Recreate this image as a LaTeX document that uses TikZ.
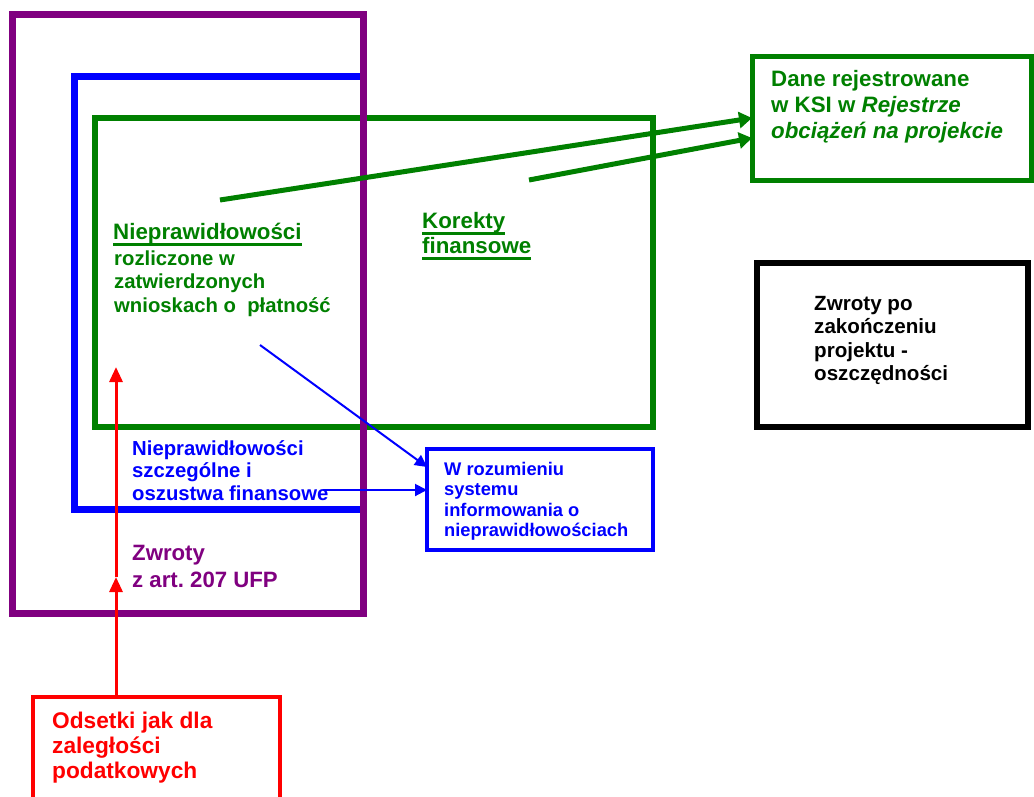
\documentclass[tikz,border=0pt]{standalone}
\usepackage{fontspec}
\setmainfont{Liberation Sans}
\usetikzlibrary{arrows.meta}
\definecolor{pgreen}{RGB}{0,128,0}
\definecolor{pblue}{RGB}{0,0,255}
\definecolor{ppurple}{RGB}{128,0,128}
\definecolor{pred}{RGB}{255,0,0}
\newsavebox\myulbox
\newcommand\myul[1]{\sbox\myulbox{#1}\rlap{\rule[-6.5pt]{\wd\myulbox}{2.5pt}}\usebox\myulbox}
\frenchspacing
\begin{document}
\begin{tikzpicture}[x=1pt,y=-1pt,
  frame/.style={draw, inner sep=0pt, outer sep=0pt},
  lbl/.style={inner sep=0pt, anchor=base west, align=left},
  fsz/.style 2 args={font=\bfseries\fontsize{#1}{#2}\selectfont},
  garrow/.style={draw=pgreen, line width=5pt, -{Triangle[length=13pt,width=16pt]}},
  barrow/.style={draw=pblue, line width=2pt, -{Triangle[length=12pt,width=12pt]}},
  rarrow/.style={draw=pred, line width=3pt, -{Triangle[length=15pt,width=13pt]}}]
\useasboundingbox (0,0) rectangle (1034,796);
\clip (0,0) rectangle (1034,796);
\fill[white] (0,0) rectangle (1034,796);

% containers
\node[frame, draw=pgreen, line width=6pt, minimum width=558pt, minimum height=309pt] (green) at (374,272.5) {};
\node[frame, draw=pblue, line width=7pt, minimum width=288.5pt, minimum height=432.5pt] (blue) at (218.75,292.75) {};
\node[frame, draw=ppurple, line width=7pt, minimum width=351pt, minimum height=599pt] (purple) at (187.5,313.5) {};

% boxes
\node[frame, draw=pgreen, line width=5pt, minimum width=279pt, minimum height=124pt] (dane) at (891.5,118) {};
\node[frame, draw=black, line width=6pt, minimum width=271pt, minimum height=164pt] (zwrotyb) at (892.5,345) {};
\node[frame, draw=pblue, line width=3.5pt, minimum width=226pt, minimum height=101pt] (wroz) at (540,499.5) {};
\node[frame, draw=pred, line width=3.5pt, minimum width=247pt, minimum height=130pt] (odsetki) at (156.5,762) {};

% texts (anchor = baseline of the last line)
\node[lbl, fsz={22.3}{26}, text=pgreen] (daneT) at (771,138)
  {Dane rejestrowane\\w KSI w \textit{Rejestrze}\\\textit{obciążeń na projekcie}};
\node[lbl, fsz={22.3}{26}, text=pgreen] (niepH) at (113,239) {\myul{Nieprawidłowości}};
\node[lbl, fsz={20.3}{23.5}, text=pgreen] (niepT) at (114,312)
  {rozliczone w\\zatwierdzonych\\wnioskach o\ \ płatność};
\node[lbl, fsz={22.3}{25}, text=pgreen] (korekty) at (422,253)
  {\myul{Korekty}\\\myul{finansowe}};
\node[lbl, fsz={20.3}{22.5}, text=pblue] (szczeg) at (132,500)
  {Nieprawidłowości\\szczególne i\\oszustwa finansowe};
\node[lbl, fsz={22.2}{27}, text=ppurple] (zwrotyT) at (132,587)
  {Zwroty\\z art. 207 UFP};
\node[lbl, fsz={22.7}{25}, text=pred] (odsetkiT) at (52,778)
  {Odsetki jak dla\\zaległości\\podatkowych};
\node[lbl, fsz={20.6}{23.5}, text=black] (zwrotybT) at (814,380.5)
  {Zwroty po\\zakończeniu\\projektu -\\oszczędności};
\node[lbl, fsz={18.3}{20.5}, text=pblue] (wrozT) at (444,536.5)
  {W rozumieniu\\systemu\\informowania o\\nieprawidłowościach};

% connectors
\coordinate (g1) at (220,200);
\coordinate (g2) at (529,180);
\draw[garrow] (g1) -- (dane.west);
\draw[garrow] (g2) -- ([yshift=-20pt]dane.west);

\coordinate (b1) at (260,345);
\coordinate (b2) at (323,490);
\draw[barrow] (b1) -- (wroz.west |- 0,467);
\draw[barrow] (b2) -- (wroz.west |- b2);

\coordinate (r0) at (116,697);
\coordinate (rmid) at (116,577);
\coordinate (rtop) at (116,367);
\draw[rarrow] (odsetki.north -| r0) -- (rmid);
\draw[rarrow] (rmid) -- (rtop);
\end{tikzpicture}
\end{document}
